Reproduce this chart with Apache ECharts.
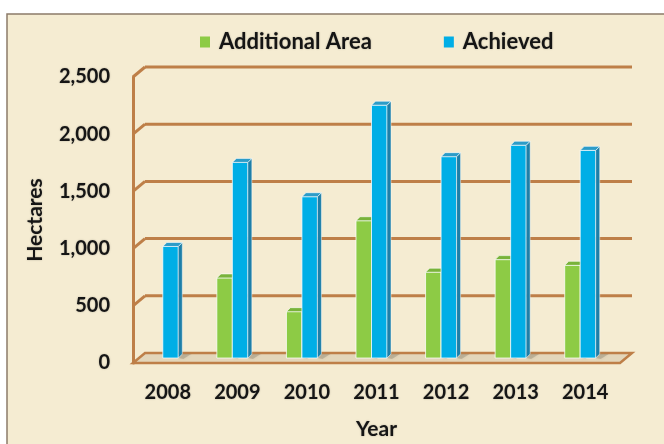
<!DOCTYPE html>
<html>
<head>
<meta charset="utf-8">
<script src="https://cdn.jsdelivr.net/npm/echarts@6/dist/echarts.min.js"></script>
<style>
  html, body { margin: 0; padding: 0; background: #fff; }
  #chart { width: 664px; height: 444px; }
</style>
</head>
<body>
<div id="chart"></div>
<script>
"use strict";

// data
const YEARS      = ["2008", "2009", "2010", "2011", "2012", "2013", "2014"];
const ADDITIONAL = [null, 700, 405, 1200, 750, 860, 810];
const ACHIEVED   = [975, 1710, 1410, 2210, 1760, 1860, 1815];
const Y_TICKS    = [0, 500, 1000, 1500, 2000, 2500];

const FONT  = "Lato";
const BROWN = "#BE7F48";
const INK   = "#151515";
const txt = (size) => ({
  fontFamily: FONT, fontWeight: "bold", fontSize: size, color: INK,
  textShadowColor: "rgba(0,0,0,0.25)", textShadowBlur: 2
});

/* ── 3D 柱子 ── */
function barRenderer(slot, face, side, top) {
  return function (params, api) {
    const i = api.value(0), v = api.value(1);
    if (!(v > 0)) return;
    const p0 = api.coord([i, 0]);
    const p1 = api.coord([i, v]);
    const w  = 15.5, dx = 4, dy = 4;
    const cx = p0[0] - 5;
    const x0 = cx - w + slot * w;
    const yb = p0[1] - 5;
    const yt = p1[1] - 5;
    return {
      type: "group",
      children: [
        { type: "polygon", shape: { points: [[x0 + w, yb], [x0 + w + dx, yb - dy], [x0 + w + dx + 9, yb - dy], [x0 + w + 5, yb + 1]] },
          style: { fill: "rgba(110,100,80,0.28)", shadowBlur: 3, shadowColor: "rgba(110,100,80,0.4)" } },
        { type: "rect", shape: { x: x0, y: yt, width: w, height: yb - yt },
          style: { fill: face, stroke: "rgba(255,255,255,0.75)", lineWidth: 1 } },
        { type: "polygon", shape: { points: [[x0 + w, yt], [x0 + w + dx, yt - dy], [x0 + w + dx, yb - dy], [x0 + w, yb]] },
          style: { fill: side, stroke: "rgba(255,255,255,0.6)", lineWidth: 0.8 } },
        { type: "polygon", shape: { points: [[x0, yt], [x0 + dx, yt - dy], [x0 + w + dx, yt - dy], [x0 + w, yt]] },
          style: { fill: top, stroke: "rgba(255,255,255,0.75)", lineWidth: 0.8 } }
      ]
    };
  };
}

/* ── 背墙网格线 + 地板 ── */
function wallRenderer(params, api) {
  const cs = params.coordSys;
  const v  = api.value(0);
  const y  = api.coord([0, v])[1];
  const ox = 12, oy = 10;
  if (v === 0) {
    return {
      type: "polygon",
      shape: { points: [[cs.x, y], [cs.x + ox, y - oy], [cs.x + cs.width + ox, y - oy], [cs.x + cs.width, y]] },
      style: { fill: "#E3D6BA", stroke: BROWN, lineWidth: 2.5 }
    };
  }
  return {
    type: "group",
    children: [
      { type: "line", shape: { x1: cs.x + ox, y1: y - oy, x2: cs.x + cs.width + ox, y2: y - oy },
        style: { stroke: BROWN, lineWidth: 3 } },
      { type: "line", shape: { x1: cs.x, y1: y, x2: cs.x + ox, y2: y - oy },
        style: { stroke: BROWN, lineWidth: 3 } }
    ]
  };
}

const chart = echarts.init(document.getElementById("chart"), null, { renderer: "canvas" });
chart.setOption({
  backgroundColor: "#fff",
  animation: false,
  textStyle: { fontFamily: FONT },
  graphic: [{
    type: "rect", z: -10, silent: true,
    shape: { x: 7, y: 14, width: 700, height: 500 },
    style: { fill: "#F5ECD2", stroke: "#8C7B6A", lineWidth: 1.5 }
  }],
  legend: {
    data: ["Additional Area", "Achieved"],
    top: 26, left: 195,
    icon: "rect", itemWidth: 10, itemHeight: 11, itemGap: 72,
    textStyle: Object.assign(txt(22), { padding: [0, 0, 0, 4] })
  },
  grid: { left: 133, right: 44, top: 77, bottom: 81, outerBoundsMode: "none", containLabel: false },
  xAxis: {
    type: "category", data: YEARS,
    name: "Year", nameLocation: "middle", nameGap: 56,
    nameTextStyle: txt(21),
    axisLine: { show: false }, axisTick: { show: false },
    axisLabel: Object.assign(txt(20), { margin: 20 })
  },
  yAxis: {
    type: "value", min: 0, max: 2500, interval: 500,
    name: "Hectares", nameLocation: "middle", nameGap: 87, nameRotate: 90,
    nameTextStyle: txt(21),
    axisLine: { show: true, lineStyle: { color: BROWN, width: 3 } },
    axisTick: { show: false },
    splitLine: { show: false },
    axisLabel: Object.assign(txt(20), {
      margin: 23,
      formatter: v => v.toLocaleString("en-US")
    })
  },
  series: [
    {
      name: "walls", type: "custom", z: 1, silent: true,
      encode: { y: 0 },
      data: Y_TICKS.map(v => [v]),
      renderItem: wallRenderer
    },
    {
      name: "Additional Area", type: "custom", z: 3,
      itemStyle: { color: "#8DCB45" },
      encode: { x: 0, y: 1 },
      data: ADDITIONAL.map((v, i) => [i, v]),
      renderItem: barRenderer(0, "#8DCB45", "#5E9A2A", "#79B33A")
    },
    {
      name: "Achieved", type: "custom", z: 4,
      itemStyle: { color: "#00AEE6" },
      encode: { x: 0, y: 1 },
      data: ACHIEVED.map((v, i) => [i, v]),
      renderItem: barRenderer(1, "#00AEE6", "#1E7FA8", "#2C9CC8")
    }
  ]
});
</script>
</body>
</html>
